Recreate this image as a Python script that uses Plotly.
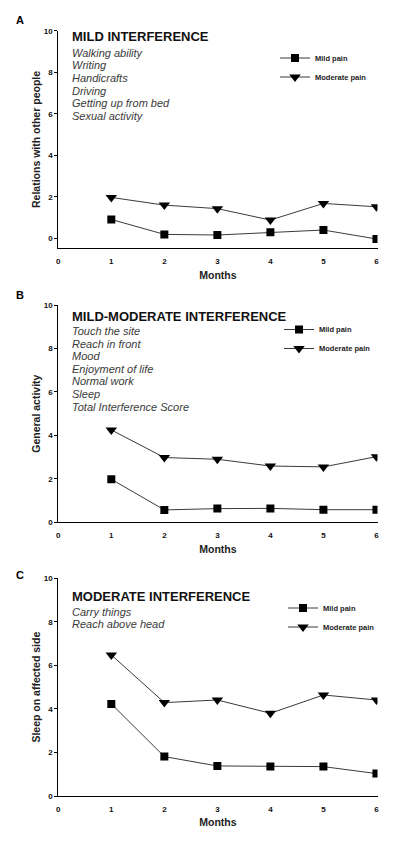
import plotly.graph_objects as go

months = [1, 2, 3, 4, 5, 6]

# Panel A
a_mild = [0.91, 0.19, 0.16, 0.29, 0.40, -0.03]
a_moderate = [1.97, 1.60, 1.43, 0.88, 1.68, 1.52]
# Panel B
b_mild = [1.98, 0.57, 0.63, 0.64, 0.58, 0.58]
b_moderate = [4.25, 2.98, 2.90, 2.59, 2.55, 3.02]
# Panel C
c_mild = [4.23, 1.81, 1.38, 1.35, 1.35, 1.03]
c_moderate = [6.48, 4.29, 4.41, 3.80, 4.64, 4.41]

panel_letters = ["A", "B", "C"]
panel_titles = ["MILD INTERFERENCE", "MILD-MODERATE INTERFERENCE", "MODERATE INTERFERENCE"]
a_items = ["Walking ability", "Writing", "Handicrafts", "Driving", "Getting up from bed", "Sexual activity"]
b_items = ["Touch the site", "Reach in front", "Mood", "Enjoyment of life", "Normal work", "Sleep",
           "Total Interference Score"]
c_items = ["Carry things", "Reach above head"]
y_titles = ["Relations with other people", "General activity", "Sleep on affected side"]
x_title = "Months"
series_names = ["Mild pain", "Moderate pain"]
x_ticks = [0, 1, 2, 3, 4, 5, 6]
y_ticks = [0, 2, 4, 6, 8, 10]

W, H = 400, 841
FONT = "Liberation Sans, Arial, sans-serif"

def px_x(p):
    return p / W

def px_y(p):
    return 1 - p / H

# panel pixel geometry (top, bottom of plot area)
panels = [
    dict(top=30.7, bottom=248.3, ymin=-0.48, mild=a_mild, mod=a_moderate, items=a_items,
         letter_y=20, title_y=36, item_y0=52.7, item_dy=12.6, leg_y=43.5, leg_x=275),
    dict(top=305.0, bottom=522.3, ymin=0, mild=b_mild, mod=b_moderate, items=b_items,
         letter_y=295, title_y=316.7, item_y0=331, item_dy=12.6, leg_y=315, leg_x=279),
    dict(top=578.3, bottom=796.0, ymin=0, mild=c_mild, mod=c_moderate, items=c_items,
         letter_y=575, title_y=596.7, item_y0=612.3, item_dy=11.5, leg_y=593.5, leg_x=283),
]

x_left, x_right = 58.3, 377.5

fig = go.Figure()
annotations = []
layout_axes = {}

for i, p in enumerate(panels):
    n = "" if i == 0 else str(i + 1)
    xa, ya = "x" + n, "y" + n
    leg = "legend" + n
    fig.add_trace(go.Scatter(
        x=months, y=p["mild"], name=series_names[0], mode="lines+markers",
        xaxis=xa, yaxis=ya, legend=leg,
        line=dict(color="#3a3a3a", width=1),
        marker=dict(symbol="square", size=8, color="black"),
    ))
    fig.add_trace(go.Scatter(
        x=months, y=p["mod"], name=series_names[1], mode="lines+markers",
        xaxis=xa, yaxis=ya, legend=leg,
        line=dict(color="#3a3a3a", width=1),
        marker=dict(symbol="triangle-down", size=10, color="black"),
    ))
    layout_axes["xaxis" + n] = dict(
        domain=[px_x(x_left), px_x(x_right)], range=[0, 6.02], anchor=ya,
        tickvals=x_ticks, ticks="", showline=True, linecolor="black", linewidth=1,
        showgrid=False, zeroline=False, ticklabelstandoff=5,
        tickfont=dict(family=FONT, size=8, color="#111", weight="bold"),
        title=dict(text=x_title, standoff=6,
                   font=dict(family=FONT, size=10.5, color="#222", weight="bold")),
        automargin=False,
    )
    layout_axes["yaxis" + n] = dict(
        domain=[px_y(p["bottom"]), px_y(p["top"])], range=[p["ymin"], 10], anchor=xa,
        tickvals=y_ticks, ticks="outside", ticklen=3, tickcolor="black",
        showline=True, linecolor="black", linewidth=1,
        showgrid=False, zeroline=False,
        tickfont=dict(family=FONT, size=8, color="#111", weight="bold"),
        title=dict(text=y_titles[i], standoff=1,
                   font=dict(family=FONT, size=10.5, color="#222", weight="bold")),
        automargin=False,
    )
    layout_axes[leg] = dict(
        x=px_x(p["leg_x"]), y=px_y(p["leg_y"]), xanchor="left", yanchor="top",
        bgcolor="rgba(0,0,0,0)", borderwidth=0, itemwidth=30,
        font=dict(family=FONT, size=7.5, color="#222", weight="bold"),
        tracegroupgap=0,
    )
    annotations.append(dict(
        text=panel_letters[i], x=px_x(20), y=px_y(p["letter_y"]), xref="paper", yref="paper",
        showarrow=False, xanchor="center", yanchor="middle",
        font=dict(family=FONT, size=11, color="black", weight="bold"),
    ))
    annotations.append(dict(
        text=panel_titles[i], x=px_x(70), y=px_y(p["title_y"]), xref="paper", yref="paper",
        showarrow=False, xanchor="left", yanchor="middle",
        font=dict(family=FONT, size=13, color="#111", weight="bold"),
    ))
    for k, item in enumerate(p["items"]):
        annotations.append(dict(
            text=item, x=px_x(70), y=px_y(p["item_y0"] + k * p["item_dy"]),
            xref="paper", yref="paper", showarrow=False, xanchor="left", yanchor="middle",
            font=dict(family=FONT, size=11, color="#3a3a3a", style="italic"),
        ))

fig.update_layout(
    width=W, height=H,
    margin=dict(l=0, r=0, t=0, b=0),
    paper_bgcolor="white", plot_bgcolor="white",
    annotations=annotations,
    showlegend=True,
    **layout_axes,
)

fig.write_html("out.html", config={"displayModeBar": False},
               post_script="document.body.style.margin='0';")
